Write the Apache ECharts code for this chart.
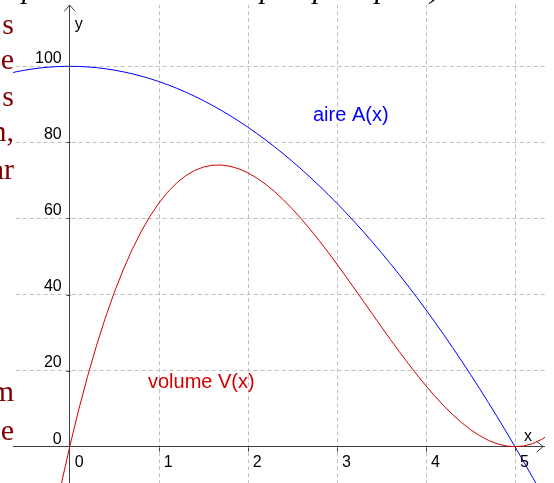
<!DOCTYPE html>
<html>
<head>
<meta charset="utf-8">
<script src="https://cdn.jsdelivr.net/npm/echarts@6/dist/echarts.min.js"></script>
<style>
html,body{margin:0;padding:0;background:#fff;}
#c{width:554px;height:483px;}
</style>
</head>
<body>
<div id="c"></div>
<script>
// ---- data ----
const xA = [-0.7,-0.6,-0.5,-0.4,-0.3,-0.2,-0.1,0,0.1,0.2,0.3,0.4,0.5,0.6,0.7,0.8,0.9,
  1.0,1.1,1.2,1.3,1.4,1.5,1.6,1.7,1.8,1.9,2.0,2.1,2.2,2.3,2.4,2.5,2.6,2.7,2.8,2.9,
  3.0,3.1,3.2,3.3,3.4,3.5,3.6,3.7,3.8,3.9,4.0,4.1,4.2,4.3,4.4,4.5,4.6,4.7,4.8,4.9,
  5.0,5.1,5.2,5.3,5.4];
const aireA = [98.04,98.56,99,99.36,99.64,99.84,99.96,100,99.96,99.84,99.64,99.36,99,98.56,98.04,97.44,96.76,
  96,95.16,94.24,93.24,92.16,91,89.76,88.44,87.04,85.56,84,82.36,80.64,78.84,76.96,75,72.96,70.84,68.64,66.36,
  64,61.56,59.04,56.44,53.76,51,48.16,45.24,42.24,39.16,36,32.76,29.44,26.04,22.56,19,15.36,11.64,7.84,3.96,
  0,-4.04,-8.16,-12.36,-16.64];
const xV = [-0.2,-0.1,0,0.1,0.2,0.3,0.4,0.5,0.6,0.7,0.8,0.9,
  1.0,1.1,1.2,1.3,1.4,1.5,1.6,1.7,1.8,1.9,2.0,2.1,2.2,2.3,2.4,2.5,2.6,2.7,2.8,2.9,
  3.0,3.1,3.2,3.3,3.4,3.5,3.6,3.7,3.8,3.9,4.0,4.1,4.2,4.3,4.4,4.5,4.6,4.7,4.8,4.9,
  5.0,5.1,5.2,5.3,5.4];
const volumeV = [-21.63,-10.4,0,9.6,18.43,26.51,33.86,40.5,46.46,51.77,56.45,60.52,
  64,66.92,69.31,71.19,72.58,73.5,73.98,74.05,73.73,73.04,72,70.64,68.99,67.07,64.9,62.5,59.9,57.13,54.21,51.16,
  48,44.76,41.47,38.15,34.82,31.5,28.22,25.01,21.89,18.88,16,13.28,10.75,8.43,6.34,4.5,2.94,1.69,0.77,0.2,
  0,0.2,0.83,1.91,3.46];
const xTicks = [0,1,2,3,4,5];
const yTicks = [0,20,40,60,80,100];
const seriesNames = ['aire A(x)','volume V(x)'];
const axisNames = ['x','y'];
const leftWords = ['s','e','s','n,','ar','m','e'];
const topWords = ['p','p','p','p',')'];

// ---- layout / style ----
const leftBaselines = [36,71,108,143,181,403,442];
const topX = [22,260,313,375,430];
const SANS = 'Liberation Sans';
const AX = '#404040';
const GRID = '#c0c0c0';
const BLUE = '#0000ff';
const RED = '#d40000';
const DOC = '#800000';

const chart = echarts.init(document.getElementById('c'), null, {renderer:'canvas'});
const pairs = (xs, ys) => xs.map((x,i)=>[x, ys[i]]);

chart.setOption({
  animation:false,
  backgroundColor:'#fff',
  grid:{left:-19.36, right:-50.06, top:-9.78, bottom:-39.78, containLabel:false, outerBoundsMode:'none'},
  xAxis:{
    type:'value', min:-1, max:6, interval:1,
    axisLine:{onZero:true, lineStyle:{color:AX, width:1}},
    axisTick:{show:false},
    axisLabel:{show:false},
    splitLine:{show:true, lineStyle:{color:GRID, type:[4,3], width:1}}
  },
  yAxis:{
    type:'value', min:-20, max:120, interval:20,
    axisLine:{onZero:true, lineStyle:{color:AX, width:1}},
    axisTick:{show:false},
    axisLabel:{show:false},
    splitLine:{show:true, lineStyle:{color:GRID, type:[4,3], width:1}}
  },
  series:[
    {name:seriesNames[0], type:'line', data:pairs(xA, aireA), showSymbol:false, symbol:'none',
      lineStyle:{color:BLUE, width:1}, itemStyle:{color:BLUE}, z:3},
    {name:seriesNames[1], type:'line', data:pairs(xV, volumeV), showSymbol:false, symbol:'none',
      lineStyle:{color:RED, width:1}, itemStyle:{color:RED}, z:3}
  ]
});

// decorations
const px = v => chart.convertToPixel({gridIndex:0}, v);
const o = px([0,0]);
const W = 554, H = 483;
const L = 13, R = 545, T = 5;
const MID = 0.3465; // canvas 'middle' baseline offset for Liberation Sans
function txt(text, x, y, font, fill, align){
  return {type:'text', x:x, y:y, z:200, silent:true,
    style:{text:text, font:font, fill:fill, textAlign:align||'left', align:align||'left',
      textVerticalAlign:'middle', verticalAlign:'middle'}};
}
function seg(x1,y1,x2,y2){
  return {type:'line', z:150, silent:true, shape:{x1:x1,y1:y1,x2:x2,y2:y2},
    style:{stroke:AX, lineWidth:1}};
}
const g = [];
g.push({type:'rect', z:100, silent:true, shape:{x:0,y:0,width:L,height:H}, style:{fill:'#fff'}});
g.push({type:'rect', z:100, silent:true, shape:{x:R,y:0,width:W-R,height:H}, style:{fill:'#fff'}});
g.push({type:'rect', z:100, silent:true, shape:{x:0,y:0,width:W,height:T}, style:{fill:'#fff'}});
// ticks & tick labels
xTicks.forEach(v=>{
  const p = px([v,0]);
  const xx = Math.round(p[0]) + 0.5;
  if (v !== 0) g.push(seg(xx, Math.round(o[1])+0.5, xx, Math.round(o[1])+4.5));
  g.push(txt(String(v), p[0]+5, o[1] + 21.3 - MID*16, '16px '+SANS, '#000', 'left'));
});
yTicks.forEach(v=>{
  const p = px([0,v]);
  const yy = Math.round(p[1]) + 0.5;
  if (v !== 0) g.push(seg(Math.round(o[0])-3.5, yy, Math.round(o[0])+0.5, yy));
  g.push(txt(String(v), o[0]-8, p[1] - 2 - MID*16, '16px '+SANS, '#000', 'right'));
});
// arrows
g.push({type:'polyline', z:150, silent:true, shape:{points:[[o[0]-5.5,T+6.5],[o[0],T],[o[0]+5.5,T+6.5]]},
  style:{stroke:AX, lineWidth:1, fill:null}});
g.push({type:'polyline', z:150, silent:true, shape:{points:[[R-2-6.5,o[1]-5.5],[R-2,o[1]],[R-2-6.5,o[1]+5.5]]},
  style:{stroke:AX, lineWidth:1, fill:null}});
g.push(txt(axisNames[1], o[0]+5, 30.5 - MID*16, '16px '+SANS, '#000'));
g.push(txt(axisNames[0], R-21, o[1]-5 - MID*16, '16px '+SANS, '#000'));
g.push(txt(seriesNames[0], 313, 122 - MID*20, '20px '+SANS, BLUE));
g.push(txt(seriesNames[1], 148, 389 - MID*20, '20px '+SANS, RED));
leftWords.forEach((w,i)=>{
  g.push(txt(w, 14, leftBaselines[i] - 0.3375*30, '30px Liberation Serif', DOC, 'right'));
});
topWords.forEach((w,i)=>{
  g.push(txt(w, topX[i], 0 - 0.3375*30, 'italic 30px Liberation Serif', '#000', 'left'));
});
chart.setOption({graphic:{elements:g}});
</script>
</body>
</html>
